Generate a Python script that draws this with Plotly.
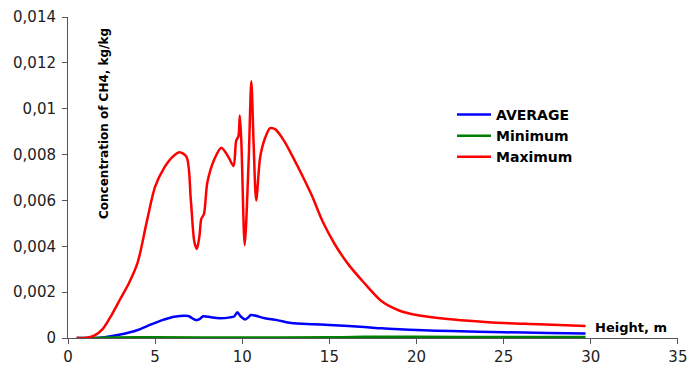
import plotly.graph_objects as go

# Maximum (red)
max_x = [0.5, 1.0, 1.5, 2.0, 2.5, 3.0, 3.5, 4.0, 4.5, 5.0, 5.5, 6.0, 6.4, 6.8, 7.05, 7.25, 7.4, 7.55, 7.65, 7.8,
         8.0, 8.4, 8.8, 9.2, 9.5, 9.65, 9.78, 9.86, 9.95, 10.14, 10.37, 10.52, 10.65, 10.8, 11.03, 11.3, 11.6, 11.9,
         12.4, 12.9, 13.5, 14.0, 14.6, 15.3, 16.1, 17.0, 18.0, 19.0, 20.0, 21.5, 23.0, 25.0, 27.0, 29.7]
max_y = [0, 0, 0.0001, 0.0004, 0.001, 0.0017, 0.0024, 0.0033, 0.005, 0.0066, 0.0074, 0.0079, 0.0081, 0.0079,
         0.006, 0.0042, 0.00388, 0.0045, 0.0052, 0.0054, 0.0068, 0.0078, 0.0083, 0.0079, 0.0075, 0.0086, 0.0088,
         0.0097, 0.0085, 0.00405, 0.0078, 0.0112, 0.0085, 0.0060, 0.0079, 0.0087, 0.00915, 0.0091, 0.0086, 0.0079,
         0.007, 0.0062, 0.0051, 0.0041, 0.0032, 0.0024, 0.0016, 0.0012, 0.001, 0.00085, 0.00075, 0.00065, 0.0006,
         0.00052]

# Average (blue)
avg_x = [0.5, 1.5, 2.0, 3.0, 4.0, 4.7, 5.5, 6.1, 6.9, 7.15, 7.35, 7.55, 7.75, 8.2, 8.7, 9.3, 9.55, 9.72, 9.9,
         10.18, 10.35, 10.5, 11.3, 12.0, 12.8, 14.0, 15.0, 16.1, 17.0, 18.0, 19.0, 20.0, 22.0, 25.0, 27.5, 29.7]
avg_y = [0, 0, 0.00002, 0.00015, 0.00035, 0.00057, 0.0008, 0.00093, 0.00096, 0.00085, 0.00078, 0.00082,
         0.00095, 0.0009, 0.00086, 0.0009, 0.00095, 0.00112, 0.00095, 0.00081, 0.0009, 0.001, 0.00086, 0.00078,
         0.00065, 0.0006, 0.00057, 0.00052, 0.00048, 0.00042, 0.00038, 0.00035, 0.0003, 0.00025, 0.00022, 0.0002]

# Minimum (green)
min_x = [0.5, 1.5, 2.5, 5.0, 10.0, 15.0, 17.0, 20.0, 25.0, 29.7]
min_y = [0, 0, 0.00002, 0.00003, 0.00002, 0.00003, 0.00005, 0.00005, 0.00004, 0.00004]

x_ticks = [0, 5, 10, 15, 20, 25, 30, 35]
y_ticks = [0, 0.002, 0.004, 0.006, 0.008, 0.01, 0.012, 0.014]
y_tick_text = ["0", "0,002", "0,004", "0,006", "0,008", "0,01", "0,012", "0,014"]

L, R, T, B = 68, 11, 17, 35
PW = 689 - L - R
PH = 373 - T - B

fig = go.Figure()
fig.add_trace(go.Scatter(x=avg_x, y=avg_y, name="<b>AVERAGE</b>", mode="lines",
                         line=dict(color="#0000FF", width=2.5, shape="spline", smoothing=0.8)))
fig.add_trace(go.Scatter(x=min_x, y=min_y, name="<b>Minimum</b>", mode="lines",
                         line=dict(color="#008000", width=2.5, shape="spline", smoothing=0.8)))
fig.add_trace(go.Scatter(x=max_x, y=max_y, name="<b>Maximum</b>", mode="lines",
                         line=dict(color="#FF0000", width=2.5, shape="spline", smoothing=0.8)))

tick_font = dict(family="DejaVu Sans", size=15, color="#222222")
fig.update_layout(
    width=689, height=373,
    margin=dict(l=L, r=R, t=T, b=B),
    paper_bgcolor="white", plot_bgcolor="white",
    showlegend=True,
    legend=dict(x=(452 - L) / PW, y=0.745, xanchor="left", yanchor="top",
                font=dict(family="DejaVu Sans", size=14, color="black"),
                bgcolor="rgba(0,0,0,0)", tracegroupgap=0, itemwidth=34),
    xaxis=dict(range=[0, 35.005], tickvals=x_ticks, ticktext=[str(v) for v in x_ticks],
               showgrid=False, zeroline=False, showline=True, linecolor="#555555", linewidth=1,
               ticks="outside", ticklen=5, tickcolor="#555555", tickfont=tick_font,
               automargin=False, ticklabeloverflow="allow"),
    yaxis=dict(range=[0, 0.014], tickvals=y_ticks, ticktext=y_tick_text,
               showgrid=False, zeroline=False, showline=True, linecolor="#555555", linewidth=1,
               ticks="outside", ticklen=5, tickcolor="#555555", tickfont=tick_font,
               ticklabelstandoff=3, automargin=False),
    annotations=[
        dict(text="<b>Concentration of CH4, kg/kg</b>", textangle=-90, xref="paper", yref="paper",
             x=(104 - L) / PW, y=(338 - 124) / PH, showarrow=False,
             xanchor="center", yanchor="middle",
             font=dict(family="DejaVu Sans", size=12, color="black")),
        dict(text="<b>Height, m</b>", xref="paper", yref="paper",
             x=(631 - L) / PW, y=(338 - 327) / PH, showarrow=False,
             xanchor="center", yanchor="middle",
             font=dict(family="DejaVu Sans", size=13, color="black")),
    ],
)

fig.write_html("out.html")
